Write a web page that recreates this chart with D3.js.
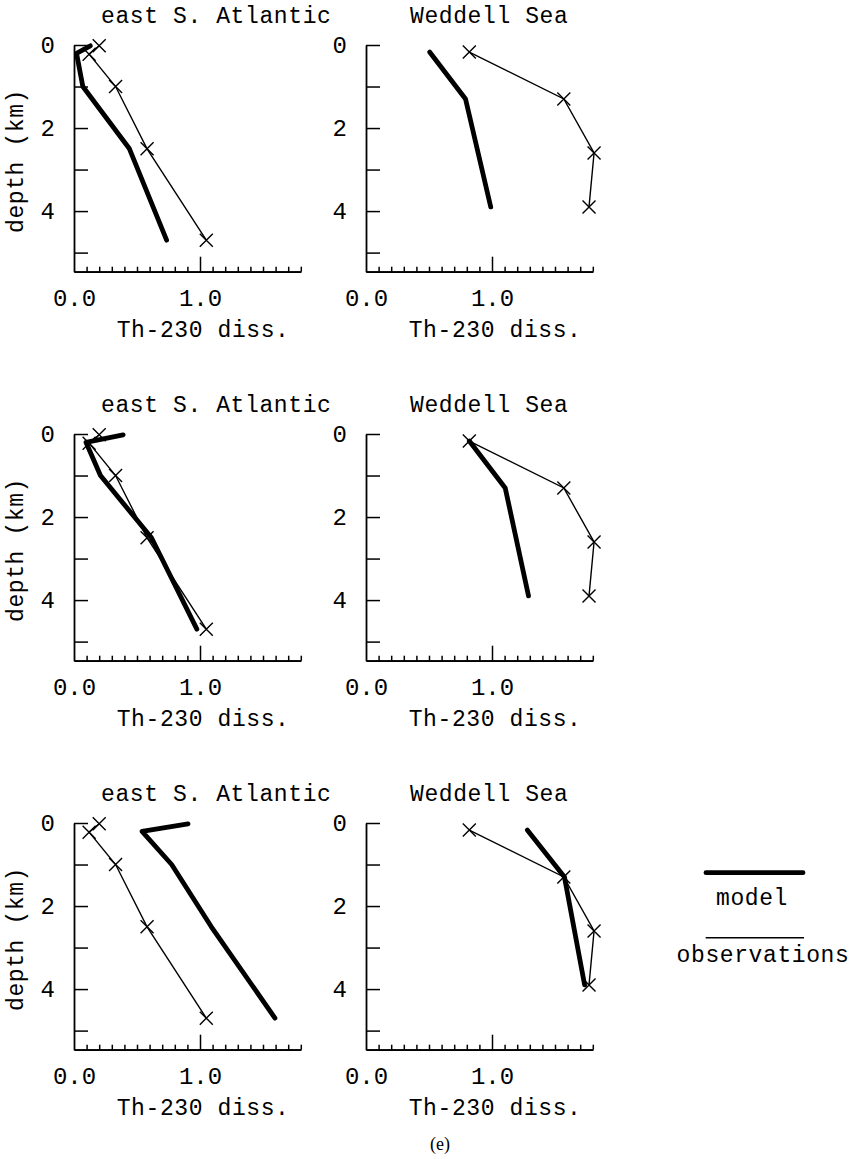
<!DOCTYPE html>
<html>
<head>
<meta charset="utf-8">
<script src="https://cdn.jsdelivr.net/npm/d3@7"></script>
<style>
  html, body { margin: 0; padding: 0; background: #fff; }
  svg { display: block; }
  text { fill: #000; }
</style>
</head>
<body>
<svg id="chart" width="856" height="1159"></svg>
<script>
// ---------------- data ----------------
const panelTitles = ["east S. Atlantic", "Weddell Sea"];
const xTickLabels = [0.0, 1.0];
const yTickLabels = [0, 2, 4];
const xMinorTicks = [0.1,0.2,0.3,0.4,0.5,0.6,0.7,0.8,0.9,1.1,1.2,1.3,1.4,1.5,1.6,1.7,1.8];
const yTicks = [0, 1, 2, 3, 4, 5];

// east S. Atlantic
const eastObsDepth = [0.02, 0.22, 1.0, 2.5, 4.7];
const eastObs      = [0.20, 0.12, 0.33, 0.58, 1.05];
const eastModelDepth = [0.02, 0.2, 1.0, 2.5, 4.7];
const eastModelRow1  = [0.13, 0.02, 0.07, 0.44, 0.735];
const eastModelRow2  = [0.39, 0.095, 0.21, 0.615, 0.975];
const eastModelRow3  = [0.905, 0.54, 0.775, 1.09, 1.595];

// Weddell Sea
const weddObsDepth = [0.17, 1.3, 2.6, 3.9];
const weddObs      = [0.82, 1.57, 1.81, 1.77];
const weddModelDepth = [0.17, 1.3, 3.9];
const weddModelRow1  = [0.505, 0.79, 0.99];
const weddModelRow2  = [0.82, 1.105, 1.29];
const weddModelRow3  = [1.28, 1.575, 1.735];

const legendLabels = ["model", "observations"];
const figureLabel = "(e)";

// ---------------- layout ----------------
const svg = d3.select("#chart");
const mono = "'Liberation Mono', 'Courier New', monospace";
const panelW = 226.8, panelH = 226.7;
const xDomain = [0, 1.8], yDomain = [0, 5.46];
const colX = [74, 366];
const rowY = [45, 434, 823];
const titleX = [101, 410];

const rows = [
  [{obsX: eastObs, obsD: eastObsDepth, modX: eastModelRow1, modD: eastModelDepth},
   {obsX: weddObs, obsD: weddObsDepth, modX: weddModelRow1, modD: weddModelDepth}],
  [{obsX: eastObs, obsD: eastObsDepth, modX: eastModelRow2, modD: eastModelDepth},
   {obsX: weddObs, obsD: weddObsDepth, modX: weddModelRow2, modD: weddModelDepth}],
  [{obsX: eastObs, obsD: eastObsDepth, modX: eastModelRow3, modD: eastModelDepth},
   {obsX: weddObs, obsD: weddObsDepth, modX: weddModelRow3, modD: weddModelDepth}]
];

rows.forEach((row, ri) => {
  row.forEach((p, ci) => {
    const g = svg.append("g").attr("transform", `translate(${colX[ci]},${rowY[ri]})`);
    const x = d3.scaleLinear().domain(xDomain).range([0, panelW]);
    const y = d3.scaleLinear().domain(yDomain).range([0, panelH]);

    // x axis: minor ticks
    const xAxisMinor = d3.axisBottom(x).tickValues(xMinorTicks).tickSizeInner(-5).tickSizeOuter(0).tickFormat("");
    const gx = g.append("g").attr("transform", `translate(0,${panelH})`).call(xAxisMinor);
    // x axis: labeled major ticks
    const xAxisMajor = d3.axisBottom(x).tickValues(xTickLabels).tickSizeInner(-15).tickSizeOuter(0)
      .tickPadding(17).tickFormat(d3.format(".1f"));
    const gx2 = g.append("g").attr("transform", `translate(0,${panelH})`).call(xAxisMajor);
    gx2.selectAll(".tick").filter(d => d === 0).select("line").remove();
    [gx, gx2].forEach(a => {
      a.selectAll("path.domain").attr("stroke", "#000").attr("stroke-width", 1.8);
      a.selectAll(".tick line").attr("stroke", "#000").attr("stroke-width", 1.5);
    });
    gx2.selectAll("text").attr("font-family", mono).attr("font-size", 24).attr("fill", "#000");

    // y axis
    const yAxis = d3.axisLeft(y).tickValues(yTicks).tickSizeInner(-14).tickSizeOuter(0)
      .tickPadding(19).tickFormat(d => yTickLabels.includes(d) ? d : "");
    const gy = g.append("g").call(yAxis);
    gy.select("path.domain").attr("stroke", "#000").attr("stroke-width", 1.8);
    gy.selectAll(".tick line").attr("stroke", "#000").attr("stroke-width", 1.5);
    gy.selectAll("text").attr("font-family", mono).attr("font-size", 24).attr("fill", "#000");

    // model line
    const line = d3.line().x(d => x(d[0])).y(d => y(d[1]));
    const modPts = p.modX.map((v, i) => [v, p.modD[i]]);
    g.append("path").datum(modPts).attr("d", line)
      .attr("fill", "none").attr("stroke", "#000").attr("stroke-width", 4.8)
      .attr("stroke-linejoin", "round").attr("stroke-linecap", "round");

    // observation line
    const obsPts = p.obsX.map((v, i) => [v, p.obsD[i]]);
    g.append("path").datum(obsPts).attr("d", line)
      .attr("fill", "none").attr("stroke", "#000").attr("stroke-width", 1.4);
    const s = 6.5;
    g.selectAll("path.mark").data(obsPts).enter().append("path")
      .attr("class", "mark")
      .attr("d", d => {
        const cx = x(d[0]), cy = y(d[1]);
        return `M${cx - s},${cy - s}L${cx + s},${cy + s}M${cx - s},${cy + s}L${cx + s},${cy - s}`;
      })
      .attr("stroke", "#000").attr("stroke-width", 1.4).attr("fill", "none");

    // titles and labels
    svg.append("text").attr("x", titleX[ci]).attr("y", rowY[ri] - 22)
      .attr("font-family", mono).attr("font-size", 23).attr("letter-spacing", 0.6)
      .text(panelTitles[ci]);
    svg.append("text").attr("x", colX[ci] + 42.7).attr("y", rowY[ri] + 292)
      .attr("font-family", mono).attr("font-size", 23).attr("letter-spacing", 0.6)
      .text("Th-230 diss.");
    if (ci === 0) {
      svg.append("text")
        .attr("transform", `translate(23,${rowY[ri] + 116}) rotate(-90)`)
        .attr("text-anchor", "middle")
        .attr("font-family", mono).attr("font-size", 23).attr("letter-spacing", 0.6)
        .text("depth (km)");
    }
  });
});

// legend
svg.append("line").attr("x1", 706).attr("x2", 803).attr("y1", 872.7).attr("y2", 872.7)
  .attr("stroke", "#000").attr("stroke-width", 4.8).attr("stroke-linecap", "round");
svg.append("text").attr("x", 752).attr("y", 905).attr("text-anchor", "middle")
  .attr("font-family", mono).attr("font-size", 23).attr("letter-spacing", 0.6).text(legendLabels[0]);
svg.append("line").attr("x1", 705.7).attr("x2", 804).attr("y1", 937.7).attr("y2", 937.7)
  .attr("stroke", "#000").attr("stroke-width", 1.4);
svg.append("text").attr("x", 763).attr("y", 962).attr("text-anchor", "middle")
  .attr("font-family", mono).attr("font-size", 23).attr("letter-spacing", 0.6).text(legendLabels[1]);

svg.append("text").attr("x", 440).attr("y", 1150).attr("text-anchor", "middle")
  .attr("font-family", "'Liberation Serif', 'Times New Roman', serif").attr("font-size", 18)
  .text(figureLabel);
</script>
</body>
</html>
